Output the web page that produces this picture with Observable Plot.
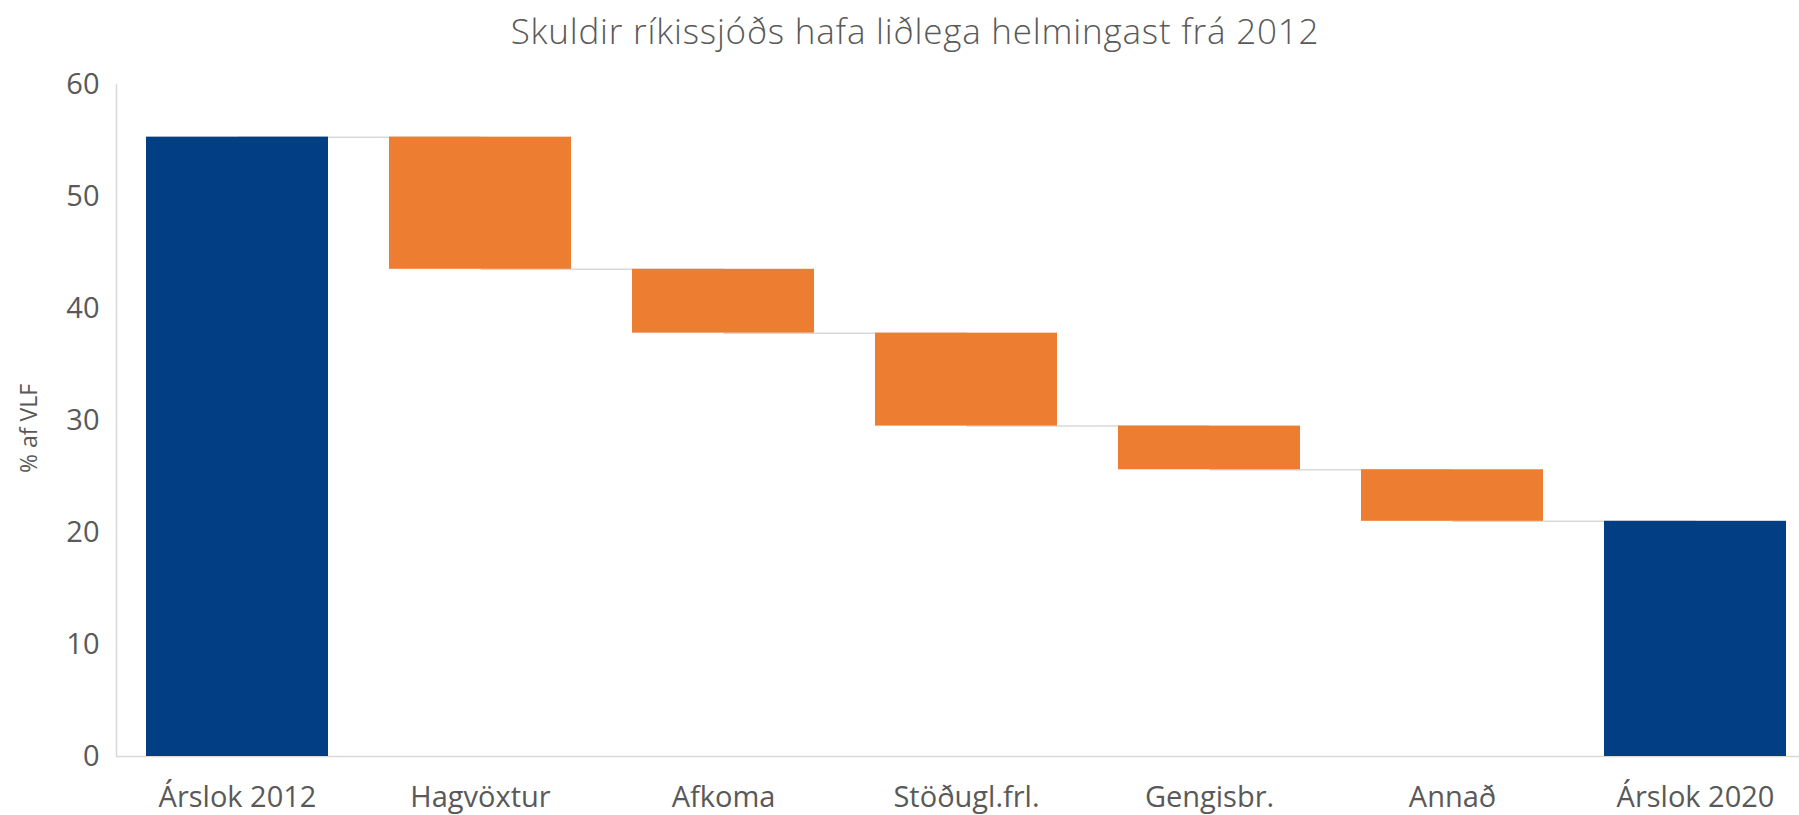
<!DOCTYPE html>
<html><head><meta charset="utf-8">
<script src="https://cdn.jsdelivr.net/npm/d3@7"></script>
<script src="https://cdn.jsdelivr.net/npm/@observablehq/plot@0.6"></script>
<style>
html,body{margin:0;padding:0;background:#fff;overflow:hidden}
#title{height:62px;position:relative;font-family:"Open Sans";font-weight:300;font-size:35px;letter-spacing:0.8px;color:#595959}
#title span{position:absolute;left:915px;top:30px;transform:translate(-50%,-50%);white-space:nowrap}
</style></head><body>
<div id="title"><span>Skuldir ríkissjóðs hafa liðlega helmingast frá 2012</span></div>
<div id="chart"></div>
<script>
const categories = ["Árslok 2012","Hagvöxtur","Afkoma","Stöðugl.frl.","Gengisbr.","Annað","Árslok 2020"];
const startValue = 55.3;
const changes = [-11.8, -5.7, -8.3, -3.9, -4.6];
const endValue = 21.0;
const yTicks = [0, 10, 20, 30, 40, 50, 60];
const yLabel = "% af VLF";

// build waterfall table
const rows = [];
const connectors = [];
let level = startValue;
rows.push({cat: categories[0], y1: 0, y2: startValue, kind: "total"});
connectors.push({from: categories[0], to: categories[1], level});
changes.forEach((d, i) => {
  const c = categories[i + 1];
  rows.push({cat: c, y1: level, y2: level + d, kind: "change"});
  level = level + d;
  connectors.push({from: c, to: categories[i + 2], level});
});
rows.push({cat: categories[categories.length - 1], y1: 0, y2: endValue, kind: "total"});

const chart = Plot.plot({
  width: 1799, height: 753,
  marginLeft: 116, marginRight: -18, marginTop: 22, marginBottom: 59,
  style: {fontFamily: "Open Sans", fontSize: "29px", color: "#595959", background: "white"},
  x: {type: "band", domain: categories, paddingInner: 0.25, paddingOuter: 0.125, align: 0.5},
  y: {domain: [0, 60]},
  marks: [
    Plot.frame({anchor: "left", stroke: "#d9d9d9", strokeWidth: 1.5}),
    Plot.ruleY([0], {stroke: "#d9d9d9", strokeWidth: 1.5}),
    Plot.link(connectors, {x1: "from", x2: "to", y1: "level", y2: "level", stroke: "#d9d9d9", strokeWidth: 1.5}),
    Plot.barY(rows.filter(d => d.kind === "total"), {x: "cat", y1: "y1", y2: "y2", fill: "#023E84"}),
    Plot.barY(rows.filter(d => d.kind === "change"), {x: "cat", y1: "y1", y2: "y2", fill: "#ED7D31"}),
    Plot.axisY({ticks: yTicks, tickSize: 0, tickPadding: 17, label: null, fontSize: 29}),
    Plot.axisX({tickSize: 0, tickPadding: 30, label: null, fontSize: 29}),
    Plot.text([yLabel], {frameAnchor: "left", dx: -87, dy: 8, rotate: -90, textAnchor: "middle", fontSize: 23, fill: "#595959"})
  ]
});
document.getElementById("chart").appendChild(chart);
</script>
</body></html>
